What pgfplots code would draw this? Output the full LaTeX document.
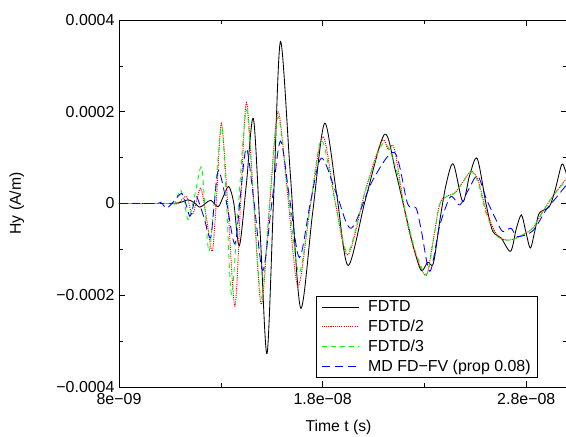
\documentclass[border=0pt]{standalone}
\usepackage{pgfplots}
\pgfplotsset{compat=1.18}
\usepackage{fontspec}
\setmainfont{Liberation Sans}
\begin{document}
\begin{tikzpicture}
\begin{axis}[
  scale only axis,
  width=448bp, height=367bp,
  xmin=8, xmax=30, ymin=-4, ymax=4,
  xtick={8,18,28}, xticklabels={8e\textminus09,1.8e\textminus08,2.8e\textminus08},
  ytick={-4,-2,0,2,4}, yticklabels={\textminus0.0004,\textminus0.0002,0,0.0002,0.0004},
  minor xtick={13,23}, minor ytick={-3,-1,1,3},
  tick align=inside,
  major tick length=6bp, minor tick length=4bp,
  every tick/.style={line width=0.6pt},
  axis line style={line width=0.8pt},
  tick label style={font=\fontsize{16}{19}\selectfont},
  xticklabel style={yshift=-3bp},
  yticklabel style={xshift=-1bp},
  xlabel={Time t (s)}, ylabel={Hy (A/m)},
  every axis label/.append style={font=\fontsize{15.8}{19}\selectfont},
  xlabel style={at={(axis description cs:0.49,-0.109)}, anchor=center},
  ylabel style={at={(axis description cs:-0.228,0.5)}, anchor=center, rotate=0},
  legend style={at={(axis description cs:0.935,0.025)}, anchor=south east,
    font=\fontsize{16}{19}\selectfont,
    row sep=2.7bp, column sep=7bp, inner xsep=5bp, inner ysep=3bp, cells={anchor=west}},
  legend image code/.code={\draw[#1] (0bp,0bp) -- (37bp,0bp);},
  legend cell align=left,
  clip=true,
]
\addplot[color=black, line width=0.85pt, smooth] coordinates {
(8,0) (10.0,0) (10.5,0) (10.99,0.02) (11.40,0.08) (11.68,0.02) (11.97,-0.08) (12.24,0)
(12.51,0.07) (12.87,-0.07) (13.12,0.15) (13.39,0.37) (13.64,0) (13.91,-0.92)
(14.25,0.4) (14.60,1.85) (14.94,-0.7) (15.27,-3.27) (15.60,0.2) (15.93,3.53)
(16.42,0.6) (16.92,-2.28) (17.51,-0.2) (18.10,1.75) (18.69,0.2) (19.25,-1.35)
(20.11,0.1) (21.04,1.51) (21.58,0.7) (22.10,-0.28) (22.46,-0.95) (22.84,-1.46)
(23.16,-1.28) (23.44,-1.3) (23.78,-0.3) (24.08,0.45) (24.42,0.86) (24.88,0.04)
(25.21,0.6) (25.59,0.98) (26.02,0) (26.35,-0.6) (26.76,-0.75) (27.23,-1.04)
(27.51,-0.55) (27.76,-0.25) (27.97,-0.6) (28.20,-0.97) (28.42,-0.6) (28.64,-0.21)
(29.13,-0.07) (29.42,0.3) (29.74,0.85) (29.91,0.73) (30.0,0.6)
};
\addlegendentry{FDTD}
\addplot[color=red, line width=0.95pt, dash pattern=on 1.1pt off 1.1pt, smooth] coordinates {
(8,0) (10.5,0) (10.89,0) (11.32,0.15) (11.61,-0.24) (12.0,0.33) (12.29,-0.3) (12.58,-1.04)
(12.80,0.2) (13.03,1.75) (13.34,0) (13.69,-2.24) (13.97,0) (14.26,2.2) (14.62,0)
(14.99,-2.2) (15.40,0) (15.81,2.0) (16.28,0.2) (16.79,-1.8) (17.41,0) (18.01,1.46)
(18.63,0) (19.24,-1.12) (20.11,0.3) (20.90,1.36) (21.23,1.17) (21.52,1.2) (22.07,-0.25)
(22.56,-1.1) (23.08,-1.57) (23.39,-0.9) (23.74,-0.03) (24.06,0.15) (24.47,0.22)
(24.86,0.45) (25.28,0.70) (25.64,0.5) (26.02,-0.14) (26.51,-0.65) (26.86,-0.78)
(27.25,-0.79) (27.75,-0.7) (28.31,-0.54) (28.78,-0.2) (29.29,0.15) (29.91,0.51) (30,0.55)
};
\addlegendentry{FDTD/2}
\addplot[color=green, line width=0.85pt, dash pattern=on 5bp off 4bp, smooth] coordinates {
(8,0) (10.5,0) (10.75,0) (10.99,0.3) (11.19,0.1) (11.40,-0.35) (11.73,0.2) (12.05,0.8)
(12.24,-0.2) (12.43,-1.04) (12.71,0.2) (13.05,1.67) (13.28,0) (13.53,-1.98) (13.87,0)
(14.26,2.04) (14.62,0) (14.99,-2.06) (15.40,0) (15.81,1.89) (16.31,0.2) (16.84,-1.51)
(17.41,0) (17.95,1.38) (18.63,0) (19.24,-1.06) (20.11,0.3) (20.96,1.31) (21.58,0.8)
(22.07,-0.2) (22.56,-1.05) (23.11,-1.55) (23.44,-0.8) (23.74,-0.03) (24.08,0.15)
(24.47,0.22) (24.86,0.45) (25.29,0.68) (25.64,0.45) (26.02,-0.2) (26.51,-0.68)
(26.86,-0.78) (27.25,-0.8) (27.75,-0.7) (28.31,-0.54) (28.78,-0.2) (29.29,0.15)
(29.91,0.48) (30,0.52)
};
\addlegendentry{FDTD/3}
\addplot[color=blue, line width=0.85pt, dash pattern=on 8.5bp off 4.5bp, smooth] coordinates {
(8,0) (9.76,0) (10.06,0.02) (10.34,-0.1) (10.70,0.05) (11.07,0.22) (11.28,0)
(11.48,-0.28) (11.65,-0.05) (11.81,0.15) (12.17,-0.3) (12.49,-0.75) (12.68,0)
(12.89,0.72) (13.29,0) (13.69,-0.88) (13.97,0.2) (14.26,1.2) (14.64,0) (15.06,-1.46)
(15.50,0) (15.93,1.36) (16.38,0.1) (16.86,-1.18) (17.39,0) (17.94,0.99) (18.69,0.2)
(19.41,-0.54) (20.45,0.5) (21.53,1.11) (22.17,0) (22.59,-0.1) (22.85,-0.6) (23.27,-1.48)
(23.74,-0.5) (24.23,0.12) (24.47,0.1) (24.75,-0.03) (25.16,0.3) (25.61,0.6) (26.04,0.1)
(26.51,-0.35) (26.84,-0.61) (27.25,-0.54) (27.57,-0.72) (28.31,-0.6) (28.97,-0.14)
(29.42,0.1) (29.91,0.37) (30,0.4)
};
\addlegendentry{MD FD\textminus FV (prop 0.08)}
\end{axis}
\pgfresetboundingbox
\path (current axis.south west) ++(-119bp,-50bp) rectangle ++(566bp,437bp);
\end{tikzpicture}
\end{document}
